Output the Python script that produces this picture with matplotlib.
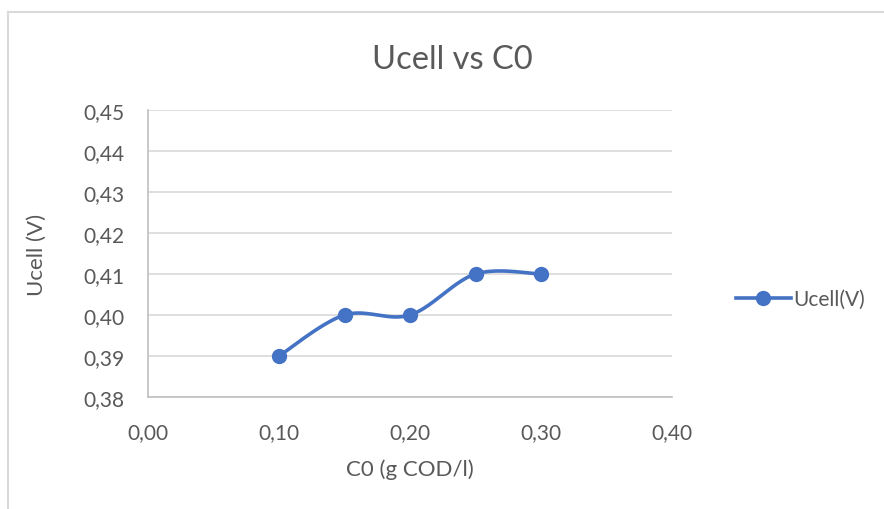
import numpy as np
import matplotlib
matplotlib.use('Agg')
import matplotlib.pyplot as plt
from matplotlib.lines import Line2D

c0 = [0.10, 0.15, 0.20, 0.25, 0.30]
ucell = [0.39, 0.40, 0.40, 0.41, 0.41]
xticks = [0.00, 0.10, 0.20, 0.30, 0.40]
yticks = [0.38, 0.39, 0.40, 0.41, 0.42, 0.43, 0.44, 0.45]

blue = '#4472C4'
grey_txt = '#595959'
grid_c = '#D9D9D9'

plt.rcParams['font.family'] = ['Lato', 'DejaVu Sans']


def smooth(xs, ys, n=40):
    # catmull-rom style bezier through the points (end points repeated)
    px = [xs[0]] + list(xs) + [xs[-1]]
    py = [ys[0]] + list(ys) + [ys[-1]]
    ox, oy = [], []
    t = np.linspace(0, 1, n)
    for i in range(1, len(px) - 2):
        x0, x1, x2, x3 = px[i - 1], px[i], px[i + 1], px[i + 2]
        y0, y1, y2, y3 = py[i - 1], py[i], py[i + 1], py[i + 2]
        b1x, b1y = x1 + (x2 - x0) / 6, y1 + (y2 - y0) / 6
        b2x, b2y = x2 - (x3 - x1) / 6, y2 - (y3 - y1) / 6
        bx = (1-t)**3*x1 + 3*(1-t)**2*t*b1x + 3*(1-t)*t**2*b2x + t**3*x2
        by = (1-t)**3*y1 + 3*(1-t)**2*t*b1y + 3*(1-t)*t**2*b2y + t**3*y2
        ox.extend(bx)
        oy.extend(by)
    return ox, oy


fig = plt.figure(figsize=(8.84, 5.10), dpi=100)
ax = fig.add_axes([148/884, 1 - 398/510, 524/884, 287/510])

sx, sy = smooth(c0, ucell)
ax.plot(sx, sy, color=blue, lw=2.6, solid_capstyle='round', zorder=3)
ax.plot(c0, ucell, 'o', color=blue, ms=10, zorder=4)

ax.set_xlim(0, 0.40)
ax.set_ylim(0.38, 0.45)
ax.set_xticks(xticks)
ax.set_yticks(yticks)
ax.set_xticklabels([f'{v:.2f}'.replace('.', ',') for v in xticks])
ax.set_yticklabels([f'{v:.2f}'.replace('.', ',') for v in yticks])
ax.tick_params(length=0, labelsize=15, colors=grey_txt)
ax.tick_params(axis='y', pad=17)
ax.tick_params(axis='x', pad=18)
ax.yaxis.grid(True, color=grid_c, lw=1.2)
ax.set_axisbelow(True)
for s in ['top', 'right']:
    ax.spines[s].set_visible(False)
for s in ['left', 'bottom']:
    ax.spines[s].set_color('#BFBFBF')
    ax.spines[s].set_linewidth(1.2)

ax.set_xlabel('C0 (g COD/l)', fontsize=16, color=grey_txt, labelpad=12)
ax.set_ylabel('Ucell (V)', fontsize=16, color=grey_txt, labelpad=26)
fig.text(452/884, 1 - 60/510, 'Ucell vs C0', ha='center', va='center',
         fontsize=23.5, color=grey_txt)

handle = Line2D([], [], color=blue, lw=2.6, marker='o', ms=10)
fig.legend([handle], ['Ucell(V)'], loc='center left',
           bbox_to_anchor=(728/884, 1 - 300/510), frameon=False,
           fontsize=15, labelcolor=grey_txt, handlelength=2.6,
           handletextpad=0.15, borderaxespad=0)

# chart area border (only left and top edges visible)
fig.add_artist(Line2D([8/884, 8/884], [0, 1 - 13/510], color='#D9D9D9', lw=1.5))
fig.add_artist(Line2D([8/884, 1], [1 - 13/510, 1 - 13/510], color='#D9D9D9', lw=1.5))

fig.savefig('out.png', dpi=100)
